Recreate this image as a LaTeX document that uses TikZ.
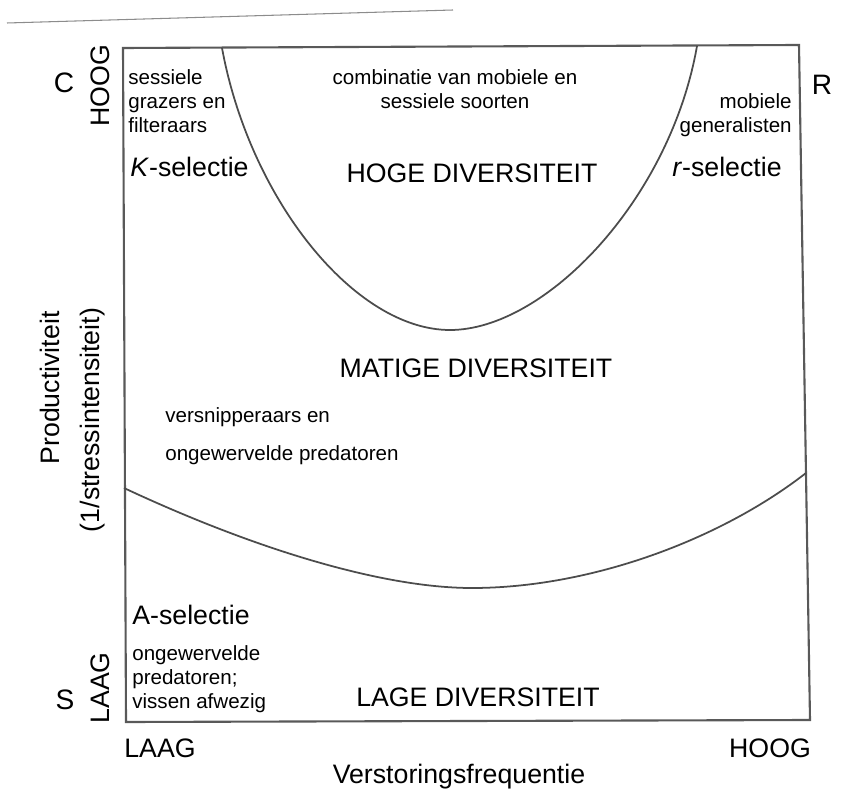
\documentclass[tikz,border=0pt]{standalone}
\usepackage{fontspec}
\setmainfont{Liberation Sans}
\usepackage{tikz}
\usetikzlibrary{positioning}

\begin{document}
\begin{tikzpicture}[
x=0.2mm,y=-0.2mm,
frame/.style={draw=black!65,line width=1.2pt},
grens/.style={draw=black!70,line width=1pt},
small/.style={inner sep=0pt,font=\fontsize{11.7}{13.6}\selectfont},
big/.style={inner sep=0pt,font=\fontsize{15.2}{17}\selectfont},
corner/.style={inner sep=0pt,font=\fontsize{16}{18}\selectfont}
]
\useasboundingbox (0,0) rectangle (841,807);
% scan line
\draw[black!45,line width=0.6pt] (7,23) -- (453,10);
% frame
\coordinate (tl) at (123,48);
\coordinate (tr) at (799,45);
\coordinate (br) at (810,720);
\coordinate (bl) at (126,722);
\draw[frame] (tl) -- (tr) -- (br) -- (bl) -- cycle;
% grenzen
\draw[grens] (222,48) .. controls (250,200) and (355,330) .. (450,330)
  .. controls (545,330) and (670,200) .. (697,46);
\draw[grens] (124,488) .. controls (250,547) and (380,588) .. (472,588)
  .. controls (590,588) and (720,540) .. (806,473);
% teksten
\node[small,anchor=west,align=left] (sessiel) at (128,101) {sessiele\\grazers en\\filteraars};
\node[big,anchor=west] (ksel) at (130,167) {\textit{K}-selectie};
\node[small,align=center] (combi) at (455,89) {combinatie van mobiele en\\sessiele soorten};
\node[big] (hoog) at (472,173) {HOGE DIVERSITEIT};
\node[small,anchor=east,align=right] (mobiel) at (792,115) {mobiele\\generalisten};
\node[big,anchor=east] (rsel) at (782,167) {\textit{r}-selectie};
\node[big] (matig) at (476,368) {MATIGE DIVERSITEIT};
\node[small,anchor=west,align=left,font=\fontsize{11.7}{21.5}\selectfont] (versnip) at (165,436) {versnipperaars en\\ongewervelde predatoren};
\node[big,anchor=west] (asel) at (132,615) {A-selectie};
\node[small,anchor=west,align=left] (ongew) at (132,679) {ongewervelde\\predatoren;\\vissen afwezig};
\node[big] (laag) at (478,697) {LAGE DIVERSITEIT};
% assen
\node[big] (xlo) at (160,748) {LAAG};
\node[big] (xhi) at (770,748) {HOOG};
\node[big] (xlab) at (459,777) {Verstoringsfrequentie};
\node[big,rotate=90] (ylab) at (50,388) {Productiviteit};
\node[big,rotate=90] (ysub) at (93,420) {(1/stressintensiteit)};
\node[big,rotate=90] (yhi) at (100,86) {HOOG};
\node[big,rotate=90] (ylo) at (100,688) {LAAG};
\node[corner] (c) at (64,83) {C};
\node[corner] (s) at (65,700) {S};
\node[corner] (r) at (822,85) {R};
\end{tikzpicture}
\end{document}
